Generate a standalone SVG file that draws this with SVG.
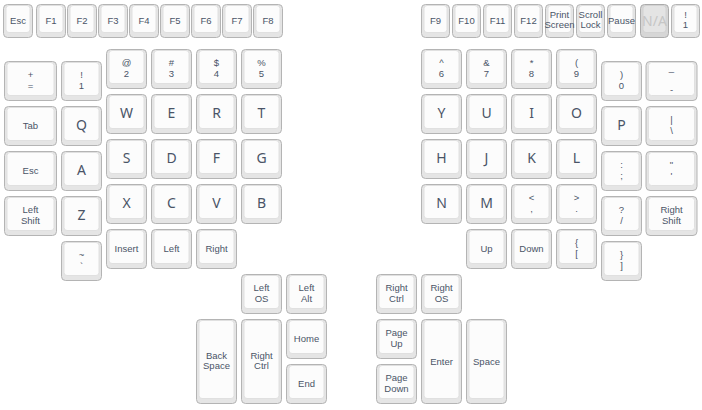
<svg xmlns="http://www.w3.org/2000/svg" width="702" height="410" viewBox="0 0 702 410">
<style>
.ko{fill:#e5e5e5;stroke:#b4b4b4;stroke-width:1}
.ki{fill:#fcfcfc;stroke:#e0e0e0;stroke-width:1}
.nko{fill:#d6d6d6;stroke:#ababab;stroke-width:1}
.nki{fill:#e4e4e4;stroke:#d2d2d2;stroke-width:1}
text{fill:#4a5467;text-anchor:middle}
.L{font-family:"Noto Sans","Liberation Sans",sans-serif;font-size:14px}
.s{font-family:"Liberation Sans",Arial,sans-serif;font-size:9.5px}
.na{font-family:"Noto Sans","Liberation Sans",sans-serif;font-size:14px;fill:#c6c6c6}
</style>
<defs>
<g id="u1"><rect class="ko" x="0.5" y="0.5" width="40" height="39" rx="4"/><rect class="ki" x="3" y="1.5" width="35" height="33" rx="3"/></g>
<g id="uw"><rect class="ko" x="0.5" y="0.5" width="52" height="39" rx="4"/><rect class="ki" x="3" y="1.5" width="47" height="33" rx="3"/></g>
<g id="uw2"><rect class="ko" x="0.5" y="0.5" width="51" height="39" rx="4"/><rect class="ki" x="3" y="1.5" width="46" height="33" rx="3"/></g>
<g id="ut"><rect class="ko" x="0.5" y="0.5" width="40" height="84" rx="4"/><rect class="ki" x="3" y="1.5" width="35" height="78" rx="3"/></g>
<g id="uf"><rect class="ko" x="0.5" y="0.5" width="29" height="33" rx="4"/><rect class="ki" x="3" y="1.5" width="24" height="27" rx="3"/></g>
<g id="uf2"><rect class="ko" x="0.5" y="0.5" width="28" height="33" rx="4"/><rect class="ki" x="3" y="1.5" width="23" height="27" rx="3"/></g>
<g id="una"><rect class="nko" x="0.5" y="0.5" width="28" height="33" rx="4"/><rect class="nki" x="3" y="1.5" width="23" height="27" rx="3"/></g>
</defs>

<!-- Function row left -->
<g id="k-esc-f"><use href="#uf" x="3" y="4"/><text class="s" x="18" y="24">Esc</text></g>
<g id="k-f1"><use href="#uf" x="36" y="4"/><text class="s" x="51" y="24">F1</text></g>
<g id="k-f2"><use href="#uf" x="67" y="4"/><text class="s" x="82" y="24">F2</text></g>
<g id="k-f3"><use href="#uf" x="98" y="4"/><text class="s" x="113" y="24">F3</text></g>
<g id="k-f4"><use href="#uf" x="129" y="4"/><text class="s" x="144" y="24">F4</text></g>
<g id="k-f5"><use href="#uf" x="160" y="4"/><text class="s" x="175" y="24">F5</text></g>
<g id="k-f6"><use href="#uf" x="191" y="4"/><text class="s" x="206" y="24">F6</text></g>
<g id="k-f7"><use href="#uf" x="222" y="4"/><text class="s" x="237" y="24">F7</text></g>
<g id="k-f8"><use href="#uf" x="253" y="4"/><text class="s" x="268" y="24">F8</text></g>

<!-- Function row right -->
<g id="k-f9"><use href="#uf2" x="421" y="4"/><text class="s" x="435.5" y="24">F9</text></g>
<g id="k-f10"><use href="#uf2" x="452" y="4"/><text class="s" x="466.5" y="24">F10</text></g>
<g id="k-f11"><use href="#uf2" x="483" y="4"/><text class="s" x="497.5" y="24">F11</text></g>
<g id="k-f12"><use href="#uf2" x="514" y="4"/><text class="s" x="528.5" y="24">F12</text></g>
<g id="k-prtsc"><use href="#uf2" x="545" y="4"/><text class="s" x="559.5" y="17.5">Print</text><text class="s" x="559.5" y="28.2">Screen</text></g>
<g id="k-scrlk"><use href="#uf2" x="576" y="4"/><text class="s" x="590.5" y="17.5">Scroll</text><text class="s" x="590.5" y="28.2">Lock</text></g>
<g id="k-pause"><use href="#uf2" x="607" y="4"/><text class="s" x="621.5" y="24">Pause</text></g>
<g id="k-na"><use href="#una" x="640" y="4"/><text class="na" x="654.5" y="26">N/A</text></g>
<g id="k-excl-f"><use href="#uf2" x="671" y="4"/><text class="s" x="685.5" y="17.5">!</text><text class="s" x="685.5" y="28.2">1</text></g>

<!-- Left half -->
<g id="k-plus"><use href="#uw" x="4" y="61"/><text class="s" x="30.5" y="78">+</text><text class="s" x="30.5" y="88.7">=</text></g>
<g id="k-tab"><use href="#uw" x="4" y="106"/><text class="s" x="30.5" y="129">Tab</text></g>
<g id="k-esc"><use href="#uw" x="4" y="151"/><text class="s" x="30.5" y="174">Esc</text></g>
<g id="k-lshift"><use href="#uw" x="4" y="196"/><text class="s" x="30.5" y="213">Left</text><text class="s" x="30.5" y="223.7">Shift</text></g>

<g id="k-1"><use href="#u1" x="61" y="61"/><text class="s" x="81.5" y="78">!</text><text class="s" x="81.5" y="88.7">1</text></g>
<g id="k-q"><use href="#u1" x="61" y="106"/><text class="L" x="81.5" y="130">Q</text></g>
<g id="k-a"><use href="#u1" x="61" y="151"/><text class="L" x="81.5" y="175">A</text></g>
<g id="k-z"><use href="#u1" x="61" y="196"/><text class="L" x="81.5" y="220">Z</text></g>
<g id="k-grave"><use href="#u1" x="61" y="241"/><text class="s" x="81.5" y="258">~</text><text class="s" x="81.5" y="268.7">`</text></g>

<g id="k-2"><use href="#u1" x="106" y="49"/><text class="s" x="126.5" y="66">@</text><text class="s" x="126.5" y="76.7">2</text></g>
<g id="k-w"><use href="#u1" x="106" y="94"/><text class="L" x="126.5" y="118">W</text></g>
<g id="k-s"><use href="#u1" x="106" y="139"/><text class="L" x="126.5" y="163">S</text></g>
<g id="k-x"><use href="#u1" x="106" y="184"/><text class="L" x="126.5" y="208">X</text></g>
<g id="k-insert"><use href="#u1" x="106" y="229"/><text class="s" x="126.5" y="252">Insert</text></g>

<g id="k-3"><use href="#u1" x="151" y="49"/><text class="s" x="171.5" y="66">#</text><text class="s" x="171.5" y="76.7">3</text></g>
<g id="k-e"><use href="#u1" x="151" y="94"/><text class="L" x="171.5" y="118">E</text></g>
<g id="k-d"><use href="#u1" x="151" y="139"/><text class="L" x="171.5" y="163">D</text></g>
<g id="k-c"><use href="#u1" x="151" y="184"/><text class="L" x="171.5" y="208">C</text></g>
<g id="k-left"><use href="#u1" x="151" y="229"/><text class="s" x="171.5" y="252">Left</text></g>

<g id="k-4"><use href="#u1" x="196" y="49"/><text class="s" x="216.5" y="66">$</text><text class="s" x="216.5" y="76.7">4</text></g>
<g id="k-r"><use href="#u1" x="196" y="94"/><text class="L" x="216.5" y="118">R</text></g>
<g id="k-f"><use href="#u1" x="196" y="139"/><text class="L" x="216.5" y="163">F</text></g>
<g id="k-v"><use href="#u1" x="196" y="184"/><text class="L" x="216.5" y="208">V</text></g>
<g id="k-right"><use href="#u1" x="196" y="229"/><text class="s" x="216.5" y="252">Right</text></g>

<g id="k-5"><use href="#u1" x="241" y="49"/><text class="s" x="261.5" y="66">%</text><text class="s" x="261.5" y="76.7">5</text></g>
<g id="k-t"><use href="#u1" x="241" y="94"/><text class="L" x="261.5" y="118">T</text></g>
<g id="k-g"><use href="#u1" x="241" y="139"/><text class="L" x="261.5" y="163">G</text></g>
<g id="k-b"><use href="#u1" x="241" y="184"/><text class="L" x="261.5" y="208">B</text></g>

<!-- Right half -->
<g id="k-6"><use href="#u1" x="421" y="49"/><text class="s" x="441.5" y="66">^</text><text class="s" x="441.5" y="76.7">6</text></g>
<g id="k-y"><use href="#u1" x="421" y="94"/><text class="L" x="441.5" y="118">Y</text></g>
<g id="k-h"><use href="#u1" x="421" y="139"/><text class="L" x="441.5" y="163">H</text></g>
<g id="k-n"><use href="#u1" x="421" y="184"/><text class="L" x="441.5" y="208">N</text></g>

<g id="k-7"><use href="#u1" x="466" y="49"/><text class="s" x="486.5" y="66">&amp;</text><text class="s" x="486.5" y="76.7">7</text></g>
<g id="k-u"><use href="#u1" x="466" y="94"/><text class="L" x="486.5" y="118">U</text></g>
<g id="k-j"><use href="#u1" x="466" y="139"/><text class="L" x="486.5" y="163">J</text></g>
<g id="k-m"><use href="#u1" x="466" y="184"/><text class="L" x="486.5" y="208">M</text></g>
<g id="k-up"><use href="#u1" x="466" y="229"/><text class="s" x="486.5" y="252">Up</text></g>

<g id="k-8"><use href="#u1" x="511" y="49"/><text class="s" x="531.5" y="66">*</text><text class="s" x="531.5" y="76.7">8</text></g>
<g id="k-i"><use href="#u1" x="511" y="94"/><text class="L" x="531.5" y="118">I</text></g>
<g id="k-k"><use href="#u1" x="511" y="139"/><text class="L" x="531.5" y="163">K</text></g>
<g id="k-comma"><use href="#u1" x="511" y="184"/><text class="s" x="531.5" y="201">&lt;</text><text class="s" x="531.5" y="211.7">,</text></g>
<g id="k-down"><use href="#u1" x="511" y="229"/><text class="s" x="531.5" y="252">Down</text></g>

<g id="k-9"><use href="#u1" x="556" y="49"/><text class="s" x="576.5" y="66">(</text><text class="s" x="576.5" y="76.7">9</text></g>
<g id="k-o"><use href="#u1" x="556" y="94"/><text class="L" x="576.5" y="118">O</text></g>
<g id="k-l"><use href="#u1" x="556" y="139"/><text class="L" x="576.5" y="163">L</text></g>
<g id="k-period"><use href="#u1" x="556" y="184"/><text class="s" x="576.5" y="201">&gt;</text><text class="s" x="576.5" y="211.7">.</text></g>
<g id="k-lbracket"><use href="#u1" x="556" y="229"/><text class="s" x="576.5" y="246">{</text><text class="s" x="576.5" y="256.7">[</text></g>

<g id="k-0"><use href="#u1" x="601" y="61"/><text class="s" x="621.5" y="78">)</text><text class="s" x="621.5" y="88.7">0</text></g>
<g id="k-p"><use href="#u1" x="601" y="106"/><text class="L" x="621.5" y="130">P</text></g>
<g id="k-semicolon"><use href="#u1" x="601" y="151"/><text class="s" x="621.5" y="168">:</text><text class="s" x="621.5" y="178.7">;</text></g>
<g id="k-slash"><use href="#u1" x="601" y="196"/><text class="s" x="621.5" y="213">?</text><text class="s" x="621.5" y="223.7">/</text></g>
<g id="k-rbracket"><use href="#u1" x="601" y="241"/><text class="s" x="621.5" y="258">}</text><text class="s" x="621.5" y="268.7">]</text></g>

<g id="k-minus"><use href="#uw2" x="645.5" y="61"/><text class="s" x="671.5" y="71">_</text><text class="s" x="671.5" y="93">-</text></g>
<g id="k-backslash"><use href="#uw2" x="645.5" y="106"/><text class="s" x="671.5" y="123">|</text><text class="s" x="671.5" y="133.7">\</text></g>
<g id="k-quote"><use href="#uw2" x="645.5" y="151"/><text class="s" x="671.5" y="168">"</text><text class="s" x="671.5" y="178.7">'</text></g>
<g id="k-rshift"><use href="#uw2" x="645.5" y="196"/><text class="s" x="671.5" y="213">Right</text><text class="s" x="671.5" y="223.7">Shift</text></g>

<!-- Left thumb cluster -->
<g id="k-backspace"><use href="#ut" x="196" y="319"/><text class="s" x="216.5" y="358.5">Back</text><text class="s" x="216.5" y="369.2">Space</text></g>
<g id="k-los"><use href="#u1" x="241" y="274"/><text class="s" x="261.5" y="291">Left</text><text class="s" x="261.5" y="301.7">OS</text></g>
<g id="k-rctrl-l"><use href="#ut" x="241" y="319"/><text class="s" x="261.5" y="358.5">Right</text><text class="s" x="261.5" y="369.2">Ctrl</text></g>
<g id="k-lalt"><use href="#u1" x="286" y="274"/><text class="s" x="306.5" y="291">Left</text><text class="s" x="306.5" y="301.7">Alt</text></g>
<g id="k-home"><use href="#u1" x="286" y="319"/><text class="s" x="306.5" y="342">Home</text></g>
<g id="k-end"><use href="#u1" x="286" y="364"/><text class="s" x="306.5" y="387">End</text></g>

<!-- Right thumb cluster -->
<g id="k-rctrl"><use href="#u1" x="376" y="274"/><text class="s" x="396.5" y="291">Right</text><text class="s" x="396.5" y="301.7">Ctrl</text></g>
<g id="k-ros"><use href="#u1" x="421" y="274"/><text class="s" x="441.5" y="291">Right</text><text class="s" x="441.5" y="301.7">OS</text></g>
<g id="k-pgup"><use href="#u1" x="376" y="319"/><text class="s" x="396.5" y="336">Page</text><text class="s" x="396.5" y="346.7">Up</text></g>
<g id="k-pgdn"><use href="#u1" x="376" y="364"/><text class="s" x="396.5" y="381">Page</text><text class="s" x="396.5" y="391.7">Down</text></g>
<g id="k-enter"><use href="#ut" x="421" y="319"/><text class="s" x="441.5" y="364.5">Enter</text></g>
<g id="k-space"><use href="#ut" x="466" y="319"/><text class="s" x="486.5" y="364.5">Space</text></g>
</svg>
